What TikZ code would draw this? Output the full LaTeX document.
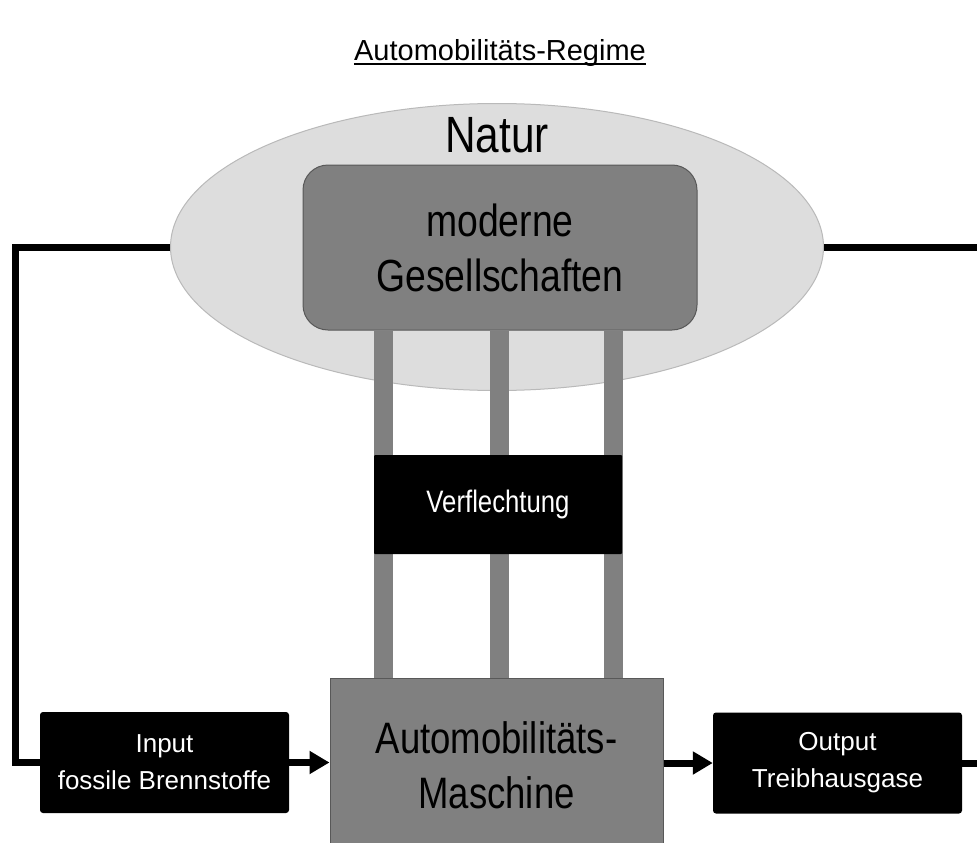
\documentclass[tikz,border=0pt]{standalone}
\usepackage{fontspec}
\setmainfont{Liberation Sans}
\newfontfamily\narrowfont[FakeStretch=0.83]{Liberation Sans}
\usetikzlibrary{arrows.meta,shapes.geometric}

\definecolor{naturgray}{RGB}{221,221,221}
\definecolor{naturline}{RGB}{185,185,185}
\definecolor{midgray}{RGB}{128,128,128}
\definecolor{darkline}{RGB}{88,88,88}

\tikzset{
  blackbox/.style={fill=black, text=white, rounded corners=3pt, align=center,
    minimum width=249pt, minimum height=101pt, inner sep=0pt,
    font=\fontsize{26}{37}\selectfont},
  graybox/.style={fill=midgray, draw=darkline, line width=1pt, align=center, inner sep=0pt},
  bar/.style={draw=midgray, line width=19pt},
  link/.style={line width=7pt},
  flow/.style={link, -{Triangle[length=20pt,width=22pt]}}
}

\begin{document}
\begin{tikzpicture}[x=1pt, y=-1pt]
		\useasboundingbox (0,0) rectangle (977,843);
		\clip (0,0) rectangle (977,843);

		\node [font=\fontsize{29}{35}\selectfont, inner sep=0pt, anchor=base] (title) at (500,60) {Automobilitäts-Regime};
		\draw [line width=2.5pt] ([yshift=-4pt]title.base west) -- ([yshift=-4pt]title.base east);

		\node [ellipse, fill=naturgray, draw=naturline, line width=1pt, minimum width=653pt, minimum height=287pt] (natur) at (497,247) {};
		\node [font=\narrowfont\fontsize{51}{55}\selectfont, inner sep=0pt, anchor=base] (naturtext) at (497,152) {Natur};

		\node [graybox, rounded corners=25pt, minimum width=394pt, minimum height=165pt, font=\narrowfont\fontsize{45}{55}\selectfont] (ges) at (500,247.5) {moderne\\Gesellschaften};
		\node [graybox, minimum width=333pt, minimum height=174pt, font=\narrowfont\fontsize{44}{55}\selectfont] (masch) at (496.5,765) {Automobilitäts-\\Maschine};

		\coordinate (b1) at (383,0);
		\coordinate (b2) at (499,0);
		\coordinate (b3) at (613,0);
		\foreach \i in {1,2,3}
			\draw [bar] (ges.south -| b\i) -- (masch.north -| b\i);

		\node [blackbox, rounded corners=1pt, minimum width=248pt, minimum height=99pt, font=\narrowfont\fontsize{31}{37}\selectfont] (verf) at (498,504.5) {Verflechtung};

		\node [blackbox] (input) at (164.5,762.5) {Input\\fossile Brennstoffe};
		\node [blackbox] (output) at (837.5,763) {Output\\Treibhausgase};

		\coordinate (lbend) at (15,0);
		\coordinate (redge) at (977,0);

		\draw [link] (natur.west) -- (natur.west -| lbend) |- (input.west);
		\draw [flow] (input.east) -- (masch.west |- input.east);
		\draw [flow] (masch.east |- output.west) -- (output.west);
		\draw [link] (output.east) -- (output.east -| redge);
		\draw [link] (natur.east) -- (natur.east -| redge);
\end{tikzpicture}
\end{document}
